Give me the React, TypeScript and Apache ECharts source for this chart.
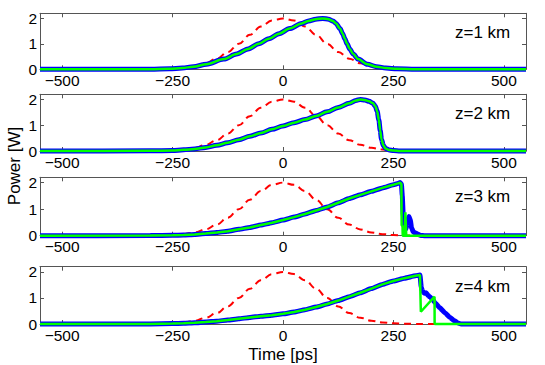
import React, { useEffect, useRef } from "react";
import * as echarts from "echarts";

const xTicks = [-500, -250, 0, 250, 500];
const yTicks = [0, 1, 2];
const panelLabels = ["z=1 km", "z=2 km", "z=3 km", "z=4 km"];

// input pulse (red dashed), [time ps, power W]
const inputPulse = [
  [-550, 0], [-300, 0.004], [-275, 0.01], [-250, 0.026], [-225, 0.059], [-200, 0.124],
  [-175, 0.238], [-150, 0.419], [-125, 0.676], [-100, 1.0], [-75, 1.353], [-50, 1.681],
  [-25, 1.915], [0, 2.0], [25, 1.915], [50, 1.681], [75, 1.353], [100, 1.0], [125, 0.676],
  [150, 0.419], [175, 0.238], [200, 0.124], [225, 0.059], [250, 0.026], [275, 0.01],
  [300, 0.004], [550, 0],
];

// z = 1 km
const blue1 = [
  [-550, 0], [-300, 0.003], [-257, 0.02], [-228, 0.05], [-203, 0.1], [-173, 0.2],
  [-134, 0.4], [-105, 0.6], [-79, 0.8], [-55, 1.0], [-32, 1.2], [-9, 1.4], [15, 1.6],
  [42, 1.8], [58, 1.9], [74, 1.97], [90, 2.0], [103, 1.97], [113, 1.9], [120, 1.8],
  [129, 1.6], [135, 1.4], [140, 1.2], [145, 1.0], [151, 0.8], [159, 0.6], [170, 0.4],
  [191, 0.2], [212, 0.1], [233, 0.05], [258, 0.02], [300, 0.003], [550, 0],
];
const green1 = blue1;

// z = 2 km
const blue2 = [
  [-550, 0], [-300, 0.005], [-250, 0.02], [-225, 0.045], [-200, 0.08], [-175, 0.14],
  [-150, 0.22], [-125, 0.32], [-100, 0.44], [-75, 0.57], [-50, 0.7], [-25, 0.84],
  [0, 0.97], [25, 1.1], [50, 1.22], [75, 1.36], [100, 1.52], [125, 1.69], [150, 1.85],
  [165, 1.96], [175, 2.0], [185, 1.98], [195, 1.93], [203, 1.86], [209, 1.74],
  [213, 1.55], [217, 1.2], [220, 0.8], [223, 0.45], [227, 0.22], [232, 0.1],
  [240, 0.04], [250, 0.015], [265, 0], [550, 0],
];
const green2 = blue2;

// z = 3 km
const lead3 = [
  [-550, 0], [-300, 0.003], [-250, 0.015], [-225, 0.028], [-200, 0.045], [-175, 0.08],
  [-150, 0.12], [-125, 0.17], [-100, 0.24], [-75, 0.31], [-50, 0.4], [-25, 0.49],
  [0, 0.59], [25, 0.7], [50, 0.82], [75, 0.95], [100, 1.08], [125, 1.24], [150, 1.4],
  [175, 1.54], [200, 1.67], [225, 1.8], [250, 1.92], [260, 1.97], [265, 2.0],
];
const tail3Blue = [
  [268, 1.95], [270, 1.5], [272, 0.8], [275, 0.35], [278, 0.25], [281, 0.45],
  [285, 0.72], [288, 0.6], [291, 0.3], [295, 0.14], [300, 0.1], [306, 0.05],
  [312, 0.01], [320, 0], [550, 0],
];
const tail3Green = [
  [268, 1.95], [268.5, 0.4], [270.5, 0.35], [271, 0], [275, 0], [277, 0.88],
  [279, 0], [550, 0],
];
const blue3 = [...lead3, ...tail3Blue];
const green3 = [...lead3, ...tail3Green];

// z = 4 km
const lead4 = [
  [-550, 0], [-300, 0.004], [-250, 0.015], [-225, 0.025], [-200, 0.045], [-175, 0.075],
  [-150, 0.11], [-125, 0.15], [-100, 0.2], [-75, 0.25], [-50, 0.3], [-25, 0.34],
  [0, 0.39], [25, 0.46], [50, 0.55], [75, 0.65], [100, 0.77], [125, 0.9], [150, 1.05],
  [175, 1.2], [200, 1.36], [225, 1.52], [250, 1.65], [275, 1.76], [300, 1.85],
  [310, 1.88],
];
const tail4Blue = [
  [313, 1.4], [316, 1.25], [320, 1.18], [324, 1.2], [328, 1.1], [332, 1.05],
  [338, 0.95], [344, 0.82], [355, 0.62], [367, 0.42], [378, 0.25], [388, 0.12],
  [396, 0.04], [403, 0], [550, 0],
];
const tail4Green = [[311, 1.88], [312, 0.47], [343, 1.05], [343.2, 0], [550, 0]];
const blue4 = [...lead4, ...tail4Blue];
const green4 = [...lead4, ...tail4Green];

const blues = [blue1, blue2, blue3, blue4];
const greens = [green1, green2, green3, green4];

const FONT = "Liberation Sans, Arial, Helvetica, sans-serif";

export default function App() {
  const ref = useRef<HTMLDivElement>(null);

  useEffect(() => {
    if (!ref.current) return;
    const chart = echarts.init(ref.current, undefined, { renderer: "svg" });
    const tops = [13.3, 94.3, 177.3, 266.7];
    const heights = [56, 56.7, 58.4, 57.3];
    const left = 40;
    const width = 486;
    const axisColor = "#555";

    const grid: any[] = [];
    const xAxis: any[] = [];
    const yAxis: any[] = [];
    const series: any[] = [];
    const graphic: any[] = [];

    tops.forEach((top, i) => {
      grid.push({ left, width, top, height: heights[i], show: false });
      const fmt = (v: number) => String(v).replace("-", "\u2212");
      ["bottom", "top"].forEach((pos) => {
        xAxis.push({
          gridIndex: i,
          type: "value",
          position: pos,
          min: -550,
          max: 550,
          axisLine: { show: true, onZero: false, lineStyle: { color: axisColor, width: 1 } },
          axisTick: { show: true, inside: true, length: 4, customValues: xTicks, lineStyle: { color: axisColor } },
          axisLabel: {
            show: pos === "bottom",
            customValues: xTicks,
            formatter: fmt,
            color: "#000",
            fontSize: 15.5,
            fontFamily: FONT,
            margin: 3,
          },
          splitLine: { show: false },
        });
      });
      ["left", "right"].forEach((pos) => {
        yAxis.push({
          gridIndex: i,
          type: "value",
          position: pos,
          min: 0,
          max: 2.2,
          axisLine: { show: true, onZero: false, lineStyle: { color: axisColor, width: 1 } },
          axisTick: { show: true, inside: true, length: 4, customValues: yTicks, lineStyle: { color: axisColor } },
          axisLabel: {
            show: pos === "left",
            customValues: yTicks,
            color: "#000",
            fontSize: 15.5,
            fontFamily: FONT,
            margin: 3,
          },
          splitLine: { show: false },
        });
      });
      const base = {
        type: "line",
        xAxisIndex: 2 * i,
        yAxisIndex: 2 * i,
        symbol: "none",
        showSymbol: false,
        clip: false,
        silent: true,
      };
      series.push({
        ...base,
        data: inputPulse,
        smooth: 0.4,
        smoothMonotone: "x",
        lineStyle: { color: "#ff0000", width: 2, type: [7, 5] },
      });
      series.push({
        ...base,
        data: blues[i],
        smooth: i < 2 ? 0.3 : 0.15,
        smoothMonotone: "x",
        lineStyle: { color: "#0000ff", width: 5 },
      });
      series.push({
        ...base,
        data: greens[i],
        smooth: i < 2 ? 0.3 : false,
        smoothMonotone: "x",
        lineStyle: { color: "#00ff00", width: 2.5 },
      });
      graphic.push({
        type: "text",
        left: 455,
        top: top + 21 - 10,
        style: { text: panelLabels[i], fontSize: 17, fontFamily: FONT, fill: "#000" },
      });
    });

    graphic.push({
      type: "text",
      x: 283,
      y: 354,
      style: {
        text: "Time [ps]",
        fontSize: 17,
        fontFamily: FONT,
        fill: "#000",
        align: "center",
        verticalAlign: "middle",
      },
    });
    graphic.push({
      type: "text",
      x: 14.5,
      y: 166,
      rotation: Math.PI / 2,
      style: {
        text: "Power [W]",
        fontSize: 17,
        fontFamily: FONT,
        fill: "#000",
        align: "center",
        verticalAlign: "middle",
      },
    });

    chart.setOption({
      animation: false,
      backgroundColor: "#fff",
      grid,
      xAxis,
      yAxis,
      series,
      graphic,
    });
    return () => chart.dispose();
  }, []);

  return (
    <div
      ref={ref}
      style={{ position: "fixed", left: 0, top: 0, width: 545, height: 365 }}
    />
  );
}
